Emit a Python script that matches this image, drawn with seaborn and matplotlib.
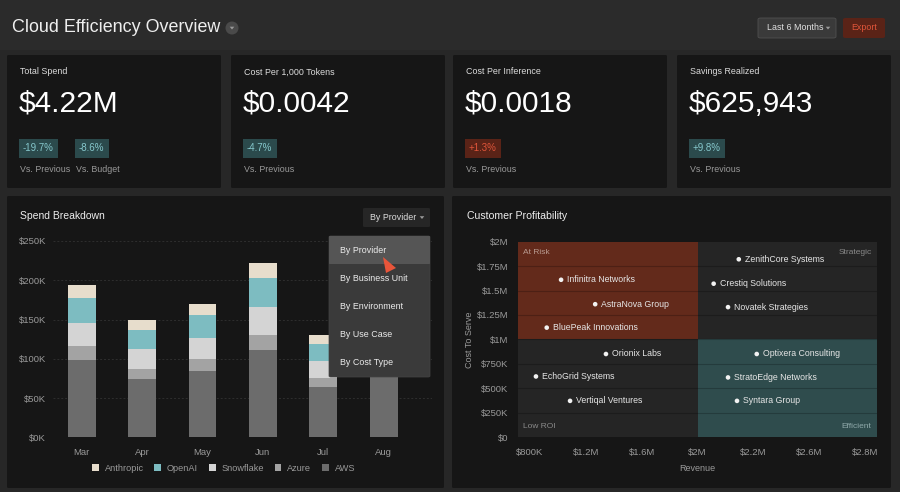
import matplotlib
matplotlib.use("Agg")
import numpy as np
import pandas as pd
import matplotlib.pyplot as plt
import matplotlib.patches as mpatches
import seaborn as sns

# ---- data ----
months = ["Mar", "Apr", "May", "Jun", "Jul", "Aug"]
providers = ["Anthropic", "OpenAI", "Snowflake", "Azure", "AWS"]
# spend in $K
aws = [99, 74, 85, 111, 64, 86]
azure = [17, 13, 15, 19, 12, 14]
snowflake = [30, 25, 27, 36, 21, 25]
openai = [32, 25, 29, 37, 22, 27]
anthropic = [16, 13, 14, 19, 11, 13]

customers = ["ZenithCore Systems", "Infinitra Networks", "Crestiq Solutions",
             "AstraNova Group", "Novatek Strategies", "BluePeak Innovations",
             "Orionix Labs", "Optixera Consulting", "EchoGrid Systems",
             "StratoEdge Networks", "Vertiqal Ventures", "Syntara Group"]
revenue = [2.03, 1.04, 1.89, 1.23, 1.97, 0.96, 1.29, 2.13, 0.90, 1.97, 1.09, 2.02]  # $M
cost_to_serve = [1.82, 1.61, 1.57, 1.36, 1.33, 1.12, 0.85, 0.85, 0.62, 0.61, 0.37, 0.37]  # $M

kpi_titles = ["Total Spend", "Cost Per 1,000 Tokens", "Cost Per Inference", "Savings Realized"]
kpi_values = ["$4.22M", "$0.0042", "$0.0018", "$625,943"]
kpi_deltas = [[("-19.7%", "Vs. Previous"), ("-8.6%", "Vs. Budget")],
              [("-4.7%", "Vs. Previous")],
              [("+1.3%", "Vs. Previous")],
              [("+9.8%", "Vs. Previous")]]

menu_items = ["By Provider", "By Business Unit", "By Environment", "By Use Case", "By Cost Type"]

bar_y_ticks = [0, 50, 100, 150, 200, 250]
bar_y_labels = ["$0K", "$50K", "$100K", "$150K", "$200K", "$250K"]
sc_y_ticks = [0, 0.25, 0.5, 0.75, 1.0, 1.25, 1.5, 1.75, 2.0]
sc_y_labels = ["$0", "$250K", "$500K", "$750K", "$1M", "$1.25M", "$1.5M", "$1.75M", "$2M"]
sc_x_labels = ["$800K", "$1.2M", "$1.6M", "$2M", "$2.2M", "$2.6M", "$2.8M"]

# ---- styling ----
sns.set_theme(style="dark")
plt.rcParams["font.family"] = ["Liberation Sans", "DejaVu Sans"]

BG = "#272727"
PANEL = "#161616"
TXT = "#eeeeee"
MUTED = "#9a9a9a"
SMALL = 6.4
colors = {"Anthropic": "#e7ddcc", "OpenAI": "#7dbcc1", "Snowflake": "#d4d4d4",
          "Azure": "#a3a3a3", "AWS": "#6c6c6c"}

W, H = 900, 492
fig = plt.figure(figsize=(W / 100, H / 100), dpi=100)
fig.patch.set_facecolor(BG)


def box(x0, y0, x1, y1):
    return [x0 / W, 1 - y1 / H, (x1 - x0) / W, (y1 - y0) / H]


def ftxt(x, y, s, **kw):
    kw.setdefault("va", "center")
    return fig.text(x / W, 1 - y / H, s, **kw)


def rect(x0, y0, x1, y1, fc, ec="none", lw=0, r=0.003, z=-1):
    p = mpatches.FancyBboxPatch((x0 / W, 1 - y1 / H), (x1 - x0) / W, (y1 - y0) / H,
                                boxstyle=f"round,pad=0,rounding_size={r}",
                                transform=fig.transFigure, fc=fc, ec=ec, lw=lw, zorder=z)
    fig.patches.append(p)
    return p


def caret(x, y, z=6):
    # small down-pointing triangle used on buttons
    tri = mpatches.Polygon([((x - 2.3) / W, 1 - (y - 1.3) / H), ((x + 2.3) / W, 1 - (y - 1.3) / H),
                            (x / W, 1 - (y + 1.5) / H)], closed=True,
                           transform=fig.transFigure, fc="#9a9a9a", ec="none", zorder=z)
    fig.patches.append(tri)


# ---- header ----
rect(0, 0, 900, 50, "#2b2b2b", r=0, z=-2)
ftxt(12, 28, "Cloud Efficiency Overview", color=TXT, fontsize=12.9)
fig.patches.append(mpatches.Ellipse((232 / W, 1 - 28 / H), 13 / W, 13 / H,
                                    transform=fig.transFigure, fc="#4a4a4a", ec="none"))
caret(232, 28)

rect(758, 18, 836, 38, "#3a3a3a", ec="#505050", lw=0.6)
ftxt(767, 28, "Last 6 Months", color="#e0e0e0", fontsize=SMALL)
caret(828, 28)
rect(843, 18, 885, 38, "#5a2317")
ftxt(864, 28, "Export", color="#e0553a", fontsize=SMALL, ha="center")

# ---- KPI cards ----
card_lefts = [7, 231, 453, 677]
for left, title, val, deltas in zip(card_lefts, kpi_titles, kpi_values, kpi_deltas):
    rect(left, 55, left + 214, 188, PANEL, r=0.002)
    ftxt(left + 13, 72, title, color="#dddddd", fontsize=SMALL)
    ftxt(left + 12, 104, val, color="#ffffff", fontsize=21.5)
    dx = left + 13
    for d, cap in deltas:
        bad = (title == "Cost Per Inference")
        fc, tc = ("#5a2317", "#e0553a") if bad else ("#2b4a4c", "#86c8cc")
        ftxt(dx + 3, 148.5, d, color=tc, fontsize=7,
             bbox=dict(boxstyle="square,pad=0.45", fc=fc, ec="none"))
        ftxt(dx, 169.5, cap, color=MUTED, fontsize=SMALL)
        dx += 56

# ---- bottom panels ----
rect(7, 196, 444, 488, PANEL, r=0.002)
rect(452, 196, 891, 488, PANEL, r=0.002)
ftxt(20, 216, "Spend Breakdown", color=TXT, fontsize=7.5)
ftxt(467, 216, "Customer Profitability", color=TXT, fontsize=7.6)

# ---- stacked bars ----
df = pd.DataFrame({"month": months, "Anthropic": anthropic, "OpenAI": openai,
                   "Snowflake": snowflake, "Azure": azure, "AWS": aws})
ax = fig.add_axes(box(53, 241, 432, 437.3))
ax.set_facecolor(PANEL)
stack_order = ["AWS", "Azure", "Snowflake", "OpenAI", "Anthropic"]
cum = df[stack_order].cumsum(axis=1)
for p in reversed(stack_order):
    sns.barplot(x=df["month"], y=cum[p], color=colors[p], width=0.46,
                saturation=1, ax=ax, zorder=2, linewidth=0, edgecolor="none")
ax.set_ylim(0, 250)
ax.set_xlim(-0.475, 5.8)
ax.set_yticks(bar_y_ticks)
ax.set_yticklabels(bar_y_labels)
ax.set_xlabel("")
ax.set_ylabel("")
for y in bar_y_ticks:
    ax.axhline(y, color="#2e2e2e", lw=0.7, ls=(0, (2, 2)) if y else "-", zorder=1)
ax.tick_params(axis="y", colors=MUTED, labelsize=6.8, pad=5, length=0)
ax.tick_params(axis="x", colors=MUTED, labelsize=6.8, pad=8, length=0)
for s in ax.spines.values():
    s.set_visible(False)
ax.grid(False)
handles = [mpatches.Patch(fc=colors[p], ec="none") for p in providers]
ax.legend(handles, providers, loc="center", bbox_to_anchor=(0.45, -0.157),
          ncol=5, frameon=False, fontsize=6.6, handlelength=0.75, handleheight=0.75,
          handletextpad=0.65, columnspacing=1.15, labelcolor=MUTED)

# dropdown menu
rect(363, 208, 430, 227, "#262626", r=0.002, z=5)
ftxt(370, 217.5, "By Provider", color="#dddddd", fontsize=SMALL, zorder=6)
caret(422, 217.5)
rect(329, 236, 430, 377, "#3a3a3a", ec="#444444", lw=0.5, r=0.002, z=5)
rect(329, 236, 430, 264, "#555555", r=0.001, z=5)
for i, item in enumerate(menu_items):
    ftxt(340, 250 + i * 28.2, item, color="#ececec", fontsize=SMALL, zorder=6)
cursor = mpatches.Polygon([(383 / W, 1 - 257 / H), (396 / W, 1 - 268 / H), (386 / W, 1 - 273 / H)],
                          closed=True, transform=fig.transFigure, fc="#e8553a", ec="none", zorder=7)
fig.patches.append(cursor)

# ---- scatter quadrant ----
ax2 = fig.add_axes(box(518, 241.7, 877, 437))
ax2.set_facecolor("#252525")
ax2.set_xlim(0.8, 2.8)
ax2.set_ylim(0, 2.0)
xmid = 1.8
ax2.add_patch(mpatches.Rectangle((0.8, 1.0), xmid - 0.8, 1.0, fc="#632a1b", ec="none", zorder=0))
ax2.add_patch(mpatches.Rectangle((xmid, 0), 2.8 - xmid, 1.0, fc="#2f4c4d", ec="none", zorder=0))
for y in sc_y_ticks[1:-1]:
    ax2.axhline(y, color="#000000", alpha=0.22, lw=0.8, zorder=1)
sc = pd.DataFrame({"customer": customers, "revenue": revenue, "cost": cost_to_serve})
sns.scatterplot(data=sc, x="revenue", y="cost", ax=ax2, color="#f2f2f2", s=11,
                edgecolor="none", zorder=3)
for _, r in sc.iterrows():
    ax2.annotate(r["customer"], (r["revenue"], r["cost"]), xytext=(4.5, 0),
                 textcoords="offset points", va="center", fontsize=6.3, color="#e6e6e6", zorder=4)
ax2.set_yticks(sc_y_ticks)
ax2.set_yticklabels(sc_y_labels)
ax2.set_xticks(np.linspace(0.867, 2.733, len(sc_x_labels)))
ax2.set_xticklabels(sc_x_labels)
ax2.set_xlabel("Revenue", color=MUTED, fontsize=6.5, labelpad=5)
ax2.set_ylabel("Cost To Serve", color=MUTED, fontsize=6.5, labelpad=2)
ax2.tick_params(axis="y", colors=MUTED, labelsize=6.8, pad=7, length=0)
ax2.tick_params(axis="x", colors=MUTED, labelsize=6.8, pad=8, length=0)
for s in ax2.spines.values():
    s.set_visible(False)
ax2.grid(False)
qkw = dict(fontsize=6, transform=ax2.transAxes, va="center")
ax2.text(0.014, 0.945, "At Risk", color="#b89a90", **qkw)
ax2.text(0.985, 0.945, "Strategic", color="#8a8a8a", ha="right", **qkw)
ax2.text(0.014, 0.055, "Low ROI", color="#8a8a8a", **qkw)
ax2.text(0.985, 0.055, "Efficient", color="#8fa9aa", ha="right", **qkw)

fig.savefig("out.png", dpi=100, facecolor=BG)
